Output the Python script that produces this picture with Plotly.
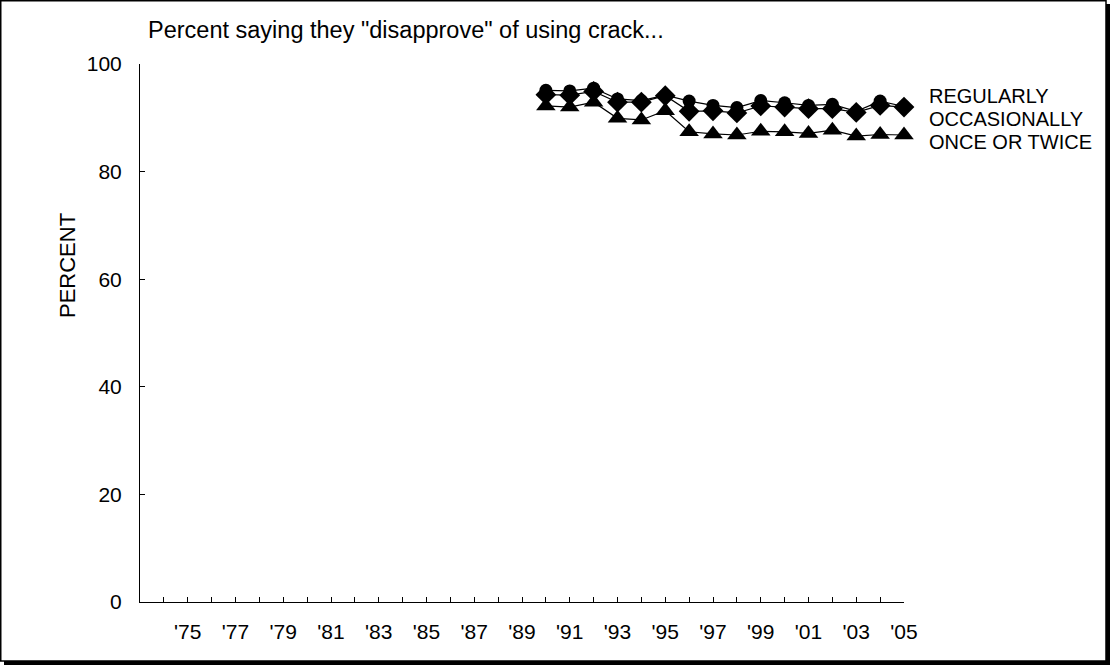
import plotly.graph_objects as go

# ---- data ----
years = list(range(1990, 2006))
regularly = [95.1, 95.0, 95.5, 93.5, 93.2, 94.2, 93.1, 92.3, 91.9, 93.2, 92.8, 92.3, 92.5, 91.2, 93.1, 92.1]
occasionally = [94.3, 94.2, 94.9, 92.9, 92.9, 94.1, 91.2, 91.3, 90.9, 92.2, 92.0, 91.7, 91.7, 91.0, 92.3, 92.0]
once_or_twice = [92.2, 92.0, 92.9, 89.9, 89.6, 91.3, 87.4, 87.0, 86.8, 87.5, 87.4, 87.1, 87.7, 86.6, 86.9, 86.8]

axis_years = list(range(1973, 2006))
tick_labels = ["'75", "'77", "'79", "'81", "'83", "'85", "'87", "'89",
               "'91", "'93", "'95", "'97", "'99", "'01", "'03", "'05"]
label_years = list(range(1975, 2006, 2))
y_ticks = [0, 20, 40, 60, 80, 100]

series_names = ["REGULARLY", "OCCASIONALLY", "ONCE OR TWICE"]

title_text = 'Percent saying they "disapprove" of using crack...'
y_title = "PERCENT"

# ---- layout geometry (pixels) ----
W, H = 1110, 665
L, R, T, B = 140, 904, 64, 602
FONT = "Liberation Sans, Arial, sans-serif"


def px_x(px):
    return (px - L) / (R - L)


def px_y(py):
    return (B - py) / (B - T)


label_map = dict(zip(label_years, tick_labels))
ticktext = [label_map.get(y, "") for y in axis_years]

fig = go.Figure()

fig.add_trace(go.Scatter(
    x=years, y=once_or_twice, mode="lines+markers", name=series_names[2],
    line=dict(color="black", width=1.2),
    marker=dict(symbol="triangle-up", size=17, color="black"),
    cliponaxis=False))
fig.add_trace(go.Scatter(
    x=years, y=occasionally, mode="lines+markers", name=series_names[1],
    line=dict(color="black", width=1.2),
    marker=dict(symbol="diamond", size=16, color="black"),
    cliponaxis=False))
fig.add_trace(go.Scatter(
    x=years, y=regularly, mode="lines+markers", name=series_names[0],
    line=dict(color="black", width=1.2),
    marker=dict(symbol="circle", size=13, color="black"),
    cliponaxis=False))

fig.update_layout(
    width=W, height=H,
    margin=dict(l=L, r=W - R, t=T, b=H - B, pad=0),
    paper_bgcolor="white", plot_bgcolor="white",
    showlegend=False,
    font=dict(family=FONT, size=20, color="black"),
)

fig.update_xaxes(
    range=[1973, 2005], tickmode="array", tickvals=axis_years, ticktext=ticktext,
    ticks="inside", ticklen=5, tickwidth=1, tickcolor="black",
    showline=True, linecolor="black", linewidth=1,
    showgrid=False, zeroline=False,
    tickfont=dict(family=FONT, size=21), ticklabelstandoff=11,
)
fig.update_yaxes(
    range=[0, 100], tickmode="array", tickvals=y_ticks,
    ticks="inside", ticklen=5, tickwidth=1, tickcolor="black",
    showline=True, linecolor="black", linewidth=1,
    showgrid=False, zeroline=False,
    tickfont=dict(family=FONT, size=21), ticklabelstandoff=13,
)

annotations = [
    dict(text=title_text, x=px_x(146), y=px_y(30), xref="paper", yref="paper",
         xanchor="left", yanchor="middle", showarrow=False,
         font=dict(family=FONT, size=23.5)),
    dict(text=y_title, x=px_x(67), y=px_y(266), xref="paper", yref="paper",
         xanchor="center", yanchor="middle", showarrow=False, textangle=-90,
         font=dict(family=FONT, size=22)),
]
for name, py in zip(series_names, [96, 119, 142]):
    annotations.append(dict(text=name, x=px_x(927), y=px_y(py), xref="paper", yref="paper",
                            xanchor="left", yanchor="middle", showarrow=False,
                            font=dict(family=FONT, size=20)))
fig.update_layout(annotations=annotations)

# frame with shadow
shapes = [
    dict(type="rect", xref="paper", yref="paper",
         x0=px_x(0.75), x1=px_x(1106), y0=px_y(0.75), y1=px_y(661),
         line=dict(color="black", width=1.5), fillcolor="rgba(0,0,0,0)", layer="above"),
    dict(type="rect", xref="paper", yref="paper",
         x0=px_x(1106), x1=px_x(1110), y0=px_y(4), y1=px_y(665),
         line=dict(width=0), fillcolor="black", layer="above"),
    dict(type="rect", xref="paper", yref="paper",
         x0=px_x(4), x1=px_x(1110), y0=px_y(661), y1=px_y(665),
         line=dict(width=0), fillcolor="black", layer="above"),
]
fig.update_layout(shapes=shapes)

fig.write_html(
    "out.html",
    config={"displayModeBar": False},
    post_script="document.body.style.margin='0';document.body.style.overflow='hidden';",
)
